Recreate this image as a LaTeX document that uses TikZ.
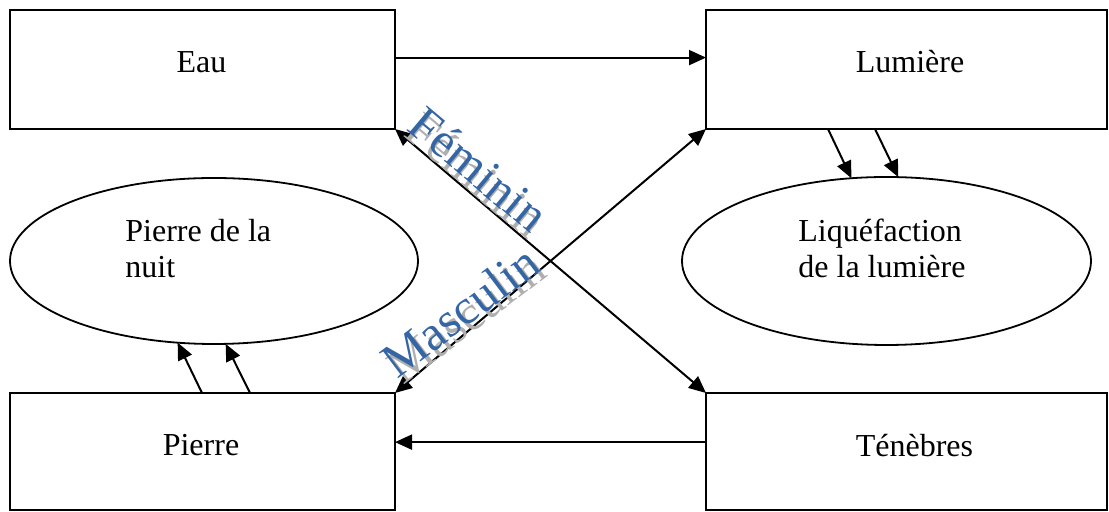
\documentclass[tikz,border=0pt]{standalone}
\usepackage{fontspec}
\setmainfont{Liberation Serif}
\usetikzlibrary{arrows.meta,calc,shapes.geometric}
\definecolor{wablue}{RGB}{52,101,164}
\definecolor{wagray}{RGB}{175,175,175}
\tikzset{
  box/.style={draw, line width=0.9pt, minimum width=192.5pt, minimum height=59.5pt, inner sep=0pt, outer sep=0pt},
  ell/.style={draw, ellipse, line width=0.9pt, minimum width=204.5pt, minimum height=84pt, inner sep=0pt, outer sep=0pt},
  lbl/.style={anchor=base, inner sep=0pt, font=\fontsize{16pt}{18pt}\selectfont},
  ltxt/.style={anchor=base west, inner sep=0pt, font=\fontsize{16pt}{18pt}\selectfont},
  arr/.style={line width=1pt, -{Triangle[length=8.5pt,width=7.5pt]}},
  darr/.style={line width=1pt, {Triangle[length=8.5pt,width=7.5pt]}-{Triangle[length=8.5pt,width=7.5pt]}},
  wa/.style={inner sep=0pt, font=\fontsize{24.5pt}{24.5pt}\selectfont},
}
\begin{document}
\begin{tikzpicture}[x=0.5pt,y=-0.5pt]
\useasboundingbox (0,0) rectangle (1109,512);
% boxes
\node[box] (eau) at (202.5,69.5) {};
\node[box, minimum width=200.5pt] (lum) at (906.5,69.5) {};
\node[box, minimum height=58.5pt] (pie) at (202.5,451.5) {};
\node[box, minimum width=200.5pt, minimum height=58.5pt] (ten) at (906.5,451.5) {};
\node[lbl] (teau) at (201.5,73) {Eau};
\node[lbl] (tlum) at (910,73) {Lumière};
\node[lbl] (tpie) at (201,456) {Pierre};
\node[lbl] (tten) at (914.5,457) {Ténèbres};
% ellipses
\node[ell, minimum width=204pt, minimum height=83pt] (lell) at (214,261) {};
\node[ell] (rell) at (886.5,261) {};
\node[ltxt] (tlell1) at (125,242) {Pierre de la};
\node[ltxt] (tlell2) at (125,278) {nuit};
\node[ltxt] (trell1) at (798,242) {Liquéfaction};
\node[ltxt] (trell2) at (798,278) {de la lumière};
% horizontal arrows
\coordinate (e1) at ($(eau.north east)!0.4!(eau.south east)$);
\draw[arr] (e1) -- (e1 -| lum.west);
\coordinate (t1) at ($(ten.north west)!0.42!(ten.south west)$);
\draw[arr] (t1) -- (t1 -| pie.east);
% diagonals
\draw[darr] (eau.south east) -- (ten.north west);
\draw[darr] (pie.north east) -- (lum.south west);
% small arrows
\coordinate (l1) at (828,129);
\coordinate (l2) at (875,129);
\draw[arr] (l1) -- (rell.113.5);
\draw[arr] (l2) -- (rell.82.2);
\coordinate (p1) at (202,393);
\coordinate (p2) at (250,393);
\draw[arr] (p1) -- (lell.246.8);
\draw[arr] (p2) -- (lell.278.8);
% WordArt
\node[wa, text=wagray, rotate=-40] (fems) at (476,175) {Féminin};
\node[wa, text=wablue, rotate=-40] (fem) at (479,169) {Féminin};
\node[wa, text=wagray, rotate=37] (mass) at (466,317) {Masculin};
\node[wa, text=wablue, rotate=37] (mas) at (460,311) {Masculin};
\end{tikzpicture}
\end{document}
